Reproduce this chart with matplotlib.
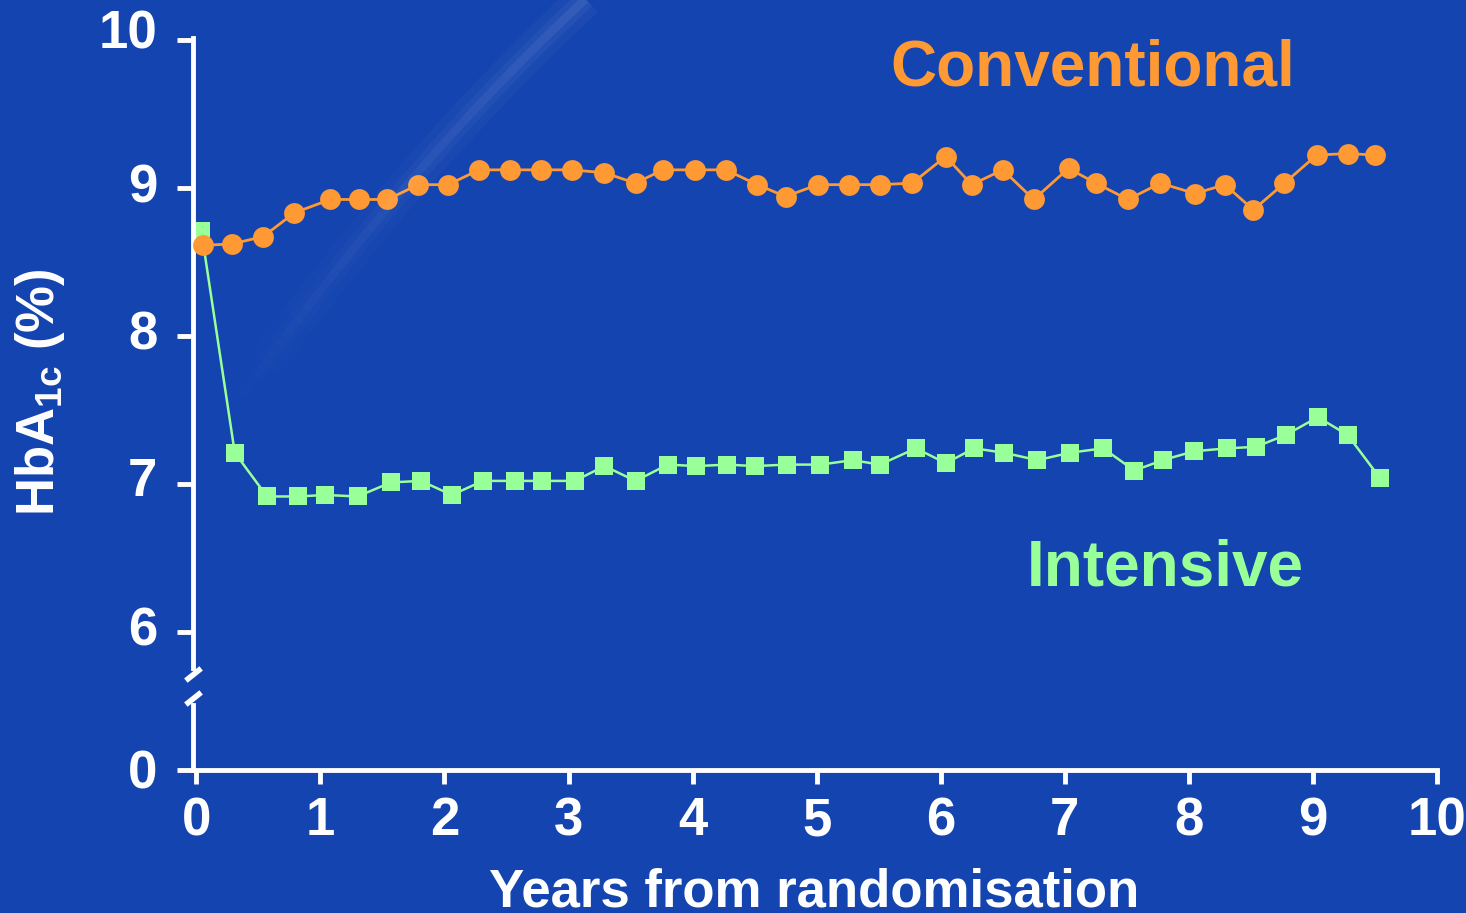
import numpy as np
import matplotlib.pyplot as plt
import matplotlib.transforms as mtransforms
from matplotlib.collections import LineCollection

# HbA1c over time, conventional vs intensive treatment
years_conv = [0.05, 0.29, 0.54, 0.79, 1.08, 1.31, 1.54, 1.79, 2.03, 2.28,
              2.53, 2.78, 3.03, 3.29, 3.54, 3.76, 4.02, 4.27, 4.52, 4.75,
              5.01, 5.26, 5.51, 5.77, 6.04, 6.25, 6.50, 6.75, 7.03, 7.25,
              7.51, 7.77, 8.05, 8.29, 8.52, 8.77, 9.03, 9.28, 9.50]
hba1c_conv = [8.61, 8.62, 8.67, 8.83, 8.92, 8.92, 8.92, 9.02, 9.02, 9.12,
              9.12, 9.12, 9.12, 9.10, 9.03, 9.12, 9.12, 9.12, 9.02, 8.94,
              9.02, 9.02, 9.02, 9.03, 9.21, 9.02, 9.12, 8.92, 9.13, 9.03,
              8.92, 9.03, 8.96, 9.02, 8.85, 9.03, 9.22, 9.23, 9.22]

years_int = [0.04, 0.31, 0.57, 0.82, 1.04, 1.30, 1.57, 1.81, 2.06, 2.31,
             2.57, 2.79, 3.05, 3.29, 3.54, 3.80, 4.03, 4.28, 4.50, 4.76,
             5.03, 5.29, 5.51, 5.80, 6.04, 6.27, 6.51, 6.78, 7.04, 7.31,
             7.56, 7.79, 8.04, 8.31, 8.54, 8.78, 9.04, 9.28, 9.54]
hba1c_int = [8.71, 7.21, 6.915, 6.915, 6.925, 6.915, 7.01, 7.02, 6.925, 7.02,
             7.02, 7.02, 7.02, 7.12, 7.02, 7.13, 7.12, 7.13, 7.12, 7.13,
             7.13, 7.16, 7.13, 7.24, 7.14, 7.24, 7.21, 7.16, 7.21, 7.24,
             7.09, 7.16, 7.22, 7.24, 7.25, 7.33, 7.45, 7.33, 7.04]

upper_ticks = [6, 7, 8, 9, 10]
lower_ticks = [0]
x_ticks = list(range(0, 11))

BG = '#1444b0'
ORANGE = '#ff9933'
GREEN = '#99ff99'
W, H = 1466, 913

plt.rcParams['font.family'] = ['Liberation Sans', 'DejaVu Sans']
plt.rcParams['font.weight'] = 'bold'
plt.rcParams['mathtext.fontset'] = 'custom'
plt.rcParams['mathtext.rm'] = 'Liberation Sans:bold'
plt.rcParams['mathtext.bf'] = 'Liberation Sans:bold'

fig = plt.figure(figsize=(W / 100, H / 100), dpi=100, facecolor=BG)

# faint light streak in the slide background (quadratic curve, fading downwards)
t = np.linspace(0, 1, 80)
p0, p1, p2 = np.array([590, -5]), np.array([400, 170]), np.array([225, 420])
curve = ((1 - t) ** 2)[:, None] * p0 + (2 * t * (1 - t))[:, None] * p1 + (t ** 2)[:, None] * p2
curve = curve.astype(float)
curve[:, 0] /= W
curve[:, 1] = 1 - curve[:, 1] / H
segs = np.stack([curve[:-1], curve[1:]], axis=1)
fade = np.linspace(1.0, 0.0, len(segs)) ** 0.8
for lw, a in [(26, 0.035), (14, 0.045), (6, 0.07)]:
    cols = [(1, 1, 1, a * f) for f in fade]
    fig.add_artist(LineCollection(segs, colors=cols, linewidths=lw,
                                  transform=fig.transFigure, capstyle='butt'))

px_per_unit = 148.1
x_left = (193 - 196.3) / 124.07
ax_top = fig.add_axes([193 / W, (H - 668) / H, 1244 / W, 630 / H])
ax_bot = fig.add_axes([193 / W, (H - 770) / H, 1244 / W, 65 / H])

ax_top.plot(years_int, hba1c_int, color=GREEN, lw=1.8, marker='s', ms=12.7,
            mec=GREEN, mew=0, zorder=2, clip_on=False)
ax_top.plot(years_conv, hba1c_conv, color=ORANGE, lw=2.0, marker='o', ms=15,
            mec=ORANGE, mew=0, zorder=3, clip_on=False)

ax_top.set_ylim(6 - 36 / px_per_unit, 10 + 1.5 / px_per_unit)
ax_bot.set_ylim(0, 65 / px_per_unit)

for ax in (ax_top, ax_bot):
    ax.set_facecolor('none')
    ax.set_xlim(x_left, 10)
    for side in ('top', 'right'):
        ax.spines[side].set_visible(False)
    for side in ('left', 'bottom'):
        ax.spines[side].set_color('white')
        ax.spines[side].set_linewidth(3.5)
    ax.tick_params(axis='y', colors='white', width=3.5, length=11.5, pad=14)
    ax.tick_params(axis='x', colors='white', width=3.5, length=10.4, pad=8.5)

ax_top.spines['bottom'].set_visible(False)
ax_top.tick_params(axis='x', bottom=False, labelbottom=False)

ax_top.set_yticks(upper_ticks)
ax_top.set_yticklabels([str(t) for t in upper_ticks], fontsize=38, fontweight='bold')
ax_bot.set_yticks(lower_ticks)
ax_bot.set_yticklabels([str(t) for t in lower_ticks], fontsize=38, fontweight='bold')
ax_bot.set_xticks(x_ticks)
ax_bot.set_xticklabels([str(t) for t in x_ticks], fontsize=38, fontweight='bold')

# nudge y labels upward a little
shift_px = {'10': 11, '9': 5, '8': 6, '7': 7, '6': 6, '0': 1}
for lab in ax_top.get_yticklabels() + ax_bot.get_yticklabels():
    dy = shift_px.get(lab.get_text(), 0)
    lab.set_transform(lab.get_transform() +
                      mtransforms.ScaledTranslation(0, dy / 100, fig.dpi_scale_trans))

# axis break marks
brk = dict(marker=[(-1, -0.8), (1, 0.8)], ms=11, mew=4, color='white',
           ls='none', clip_on=False)
ax_top.plot([0], [ax_top.get_ylim()[0] - 6 / px_per_unit],
            transform=ax_top.get_yaxis_transform(), **brk)
ax_bot.plot([0], [ax_bot.get_ylim()[1] + 7.5 / px_per_unit],
            transform=ax_bot.get_yaxis_transform(), **brk)

fig.text(40 / W, 1 - 392 / H, r'HbA$_{\mathrm{1c}}$ (%)', rotation=90,
         ha='center', va='center', color='white', fontsize=38, fontweight='bold')
fig.text(814 / W, 1 - 906 / H, 'Years from randomisation', ha='center',
         va='baseline', color='white', fontsize=38, fontweight='bold')

fig.text(890 / W, 1 - 86 / H, 'Conventional', ha='left', va='baseline',
         color=ORANGE, fontsize=46, fontweight='bold')
fig.text(1027 / W, 1 - 585 / H, 'Intensive', ha='left', va='baseline',
         color=GREEN, fontsize=46, fontweight='bold')

fig.savefig('out.png', dpi=100, facecolor=BG)
